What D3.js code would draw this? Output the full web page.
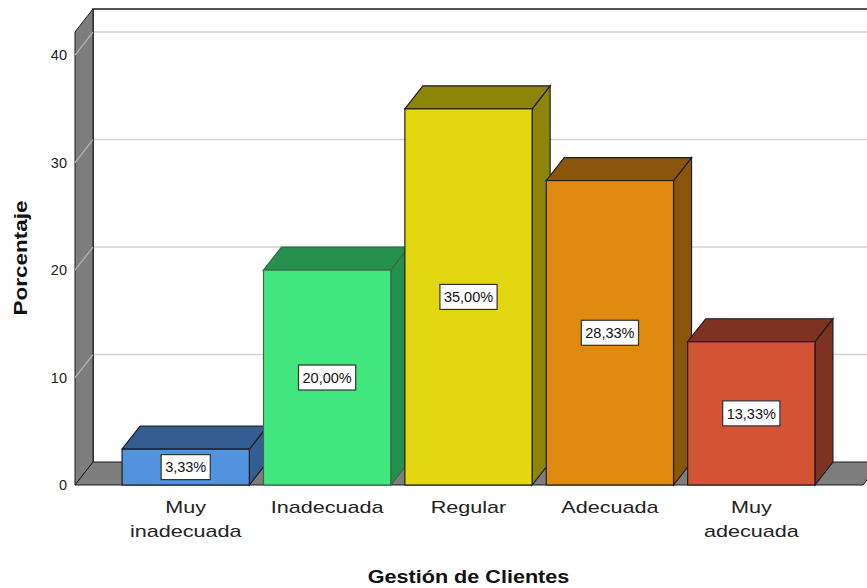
<!DOCTYPE html>
<html>
<head>
<meta charset="utf-8">
<script src="https://cdn.jsdelivr.net/npm/d3@7"></script>
<style>
    body { margin: 0; background: #fff; }
    svg { display: block; font-family: Arial, "Liberation Sans", sans-serif; }
</style>
</head>
<body>
<script>
'use strict';

const categories = ['Muy inadecuada', 'Inadecuada', 'Regular', 'Adecuada', 'Muy adecuada'];
const values = [3.33, 20.00, 35.00, 28.33, 13.33];
const frontColors = ['#5293e0', '#42e67e', '#e3d70f', '#e08a10', '#d35435'];
const darkColors = ['#345d91', '#26914f', '#8d8509', '#8a560c', '#7e3222'];
const yTicks = [0, 10, 20, 30, 40];
const xTitle = 'Gestión de Clientes';
const yTitle = 'Porcentaje';

(function () {

    function getPlot() {
        return {
            width: 867,
            height: 588,
            wallLeft: 75,      // front edge of the left wall
            floorY: 485,       // front edge of the floor (value 0)
            depth: { x: 18, y: -23 },
            right: 867
        };
    }

    function makeScales(plot) {
        return {
            x: d3.scaleBand()
                .domain(categories)
                .range([115, 822])
                .paddingInner(0.1)
                .paddingOuter(0.05),
            y: d3.scaleLinear()
                .domain([0, 42.15])
                .range([plot.floorY, 32])
        };
    }

    // walls, floor and grid lines
    function appendFrame(svg, plot, scales) {
        const dx = plot.depth.x, dy = plot.depth.y;
        const bx = plot.wallLeft + dx;
        const topY = scales.y.range()[1] + dy;
        const backFloor = plot.floorY + dy;

        svg.append('rect')
            .attr('x', bx).attr('y', topY)
            .attr('width', plot.right - bx).attr('height', backFloor - topY)
            .attr('fill', '#fff');

        svg.append('g').selectAll('line')
            .data(yTicks.filter(d => d > 0))
            .join('line')
            .attr('x1', bx).attr('x2', plot.right)
            .attr('y1', d => scales.y(d) + dy).attr('y2', d => scales.y(d) + dy)
            .attr('stroke', '#d2d2d2').attr('stroke-width', 1.5);

        svg.append('path')
            .attr('d', 'M' + bx + ',' + backFloor + 'V' + topY + 'H' + plot.right)
            .attr('fill', 'none').attr('stroke', '#222').attr('stroke-width', 1.6);

        svg.append('path')
            .attr('d', 'M' + plot.wallLeft + ',' + (topY - dy) + 'L' + bx + ',' + topY
                + 'V' + backFloor + 'L' + plot.wallLeft + ',' + plot.floorY + 'Z')
            .attr('fill', '#7d7d7d').attr('stroke', '#1a1a1a').attr('stroke-width', 1);

        svg.append('path')
            .attr('d', 'M' + plot.wallLeft + ',' + plot.floorY + 'L' + bx + ',' + backFloor
                + 'H' + (plot.right + 14) + 'L' + (plot.right - 4) + ',' + plot.floorY + 'Z')
            .attr('fill', '#7d7d7d').attr('stroke', '#1a1a1a').attr('stroke-width', 1);

        svg.append('g').selectAll('line')
            .data(yTicks.filter(d => d > 0))
            .join('line')
            .attr('x1', plot.wallLeft).attr('x2', bx)
            .attr('y1', d => scales.y(d)).attr('y2', d => scales.y(d) + dy)
            .attr('stroke', '#b4b4b4').attr('stroke-width', 1.2);
    }

    function appendYAxis(svg, plot, scales) {
        const axis = svg.append('g')
            .attr('transform', 'translate(' + plot.wallLeft + ',0)')
            .call(d3.axisLeft(scales.y).tickValues(yTicks).tickSize(0).tickPadding(8));
        axis.select('.domain').remove();
        axis.selectAll('text')
            .attr('font-size', 14.5)
            .attr('font-family', 'Arial, "Liberation Sans", sans-serif')
            .attr('fill', '#222');
    }

    function appendBars(svg, plot, scales) {
        const dx = plot.depth.x, dy = plot.depth.y;
        const fmt = d3.formatLocale({ decimal: ',', thousands: '.', grouping: [3], currency: ['', ''] }).format('.2f');
        categories.forEach((c, i) => {
            const x0 = scales.x(c);
            const x1 = x0 + scales.x.bandwidth();
            const yTop = scales.y(values[i]);
            const yBot = scales.y(0);
            const g = svg.append('g');
            const stroke = i === 1 ? '#3a6a4a' : '#1e1e1e';
            g.append('path')
                .attr('d', 'M' + x1 + ',' + yTop + 'L' + (x1 + dx) + ',' + (yTop + dy)
                    + 'V' + (yBot + dy) + 'L' + x1 + ',' + yBot + 'Z')
                .attr('fill', darkColors[i]).attr('stroke', stroke).attr('stroke-width', 1.2);
            g.append('path')
                .attr('d', 'M' + x0 + ',' + yTop + 'L' + (x0 + dx) + ',' + (yTop + dy)
                    + 'H' + (x1 + dx) + 'L' + x1 + ',' + yTop + 'Z')
                .attr('fill', darkColors[i]).attr('stroke', stroke).attr('stroke-width', 1.2);
            g.append('rect')
                .attr('x', x0).attr('y', yTop)
                .attr('width', x1 - x0).attr('height', yBot - yTop)
                .attr('fill', frontColors[i]).attr('stroke', stroke).attr('stroke-width', 1.2);
        });

        // value labels
        categories.forEach((c, i) => {
            const cx = scales.x(c) + scales.x.bandwidth() / 2;
            const cy = (scales.y(values[i]) + scales.y(0)) / 2;
            const lg = svg.append('g').attr('transform', 'translate(' + cx + ',' + cy + ')');
            const rect = lg.append('rect');
            const t = lg.append('text')
                .attr('text-anchor', 'middle')
                .attr('dy', '0.36em')
                .attr('font-size', 14.5)
                .attr('fill', '#111')
                .text(fmt(values[i]) + '%');
            const w = t.node().getComputedTextLength() + 8;
            rect.attr('x', -w / 2).attr('y', -12.5)
                .attr('width', w).attr('height', 25)
                .attr('fill', '#fff').attr('stroke', '#333').attr('stroke-width', 1.2);
        });
    }

    function appendXLabels(svg, plot, scales) {
        categories.forEach(c => {
            const words = c.split(' ');
            const cx = scales.x(c) + scales.x.bandwidth() / 2;
            words.forEach((w, j) => {
                svg.append('text')
                    .attr('transform', 'translate(' + cx + ',' + (513 + j * 23.5) + ') scale(1.27,1)')
                    .attr('text-anchor', 'middle')
                    .attr('font-size', 17)
                    .attr('fill', '#222')
                    .text(w);
            });
        });
    }

    function appendTitles(svg, plot, scales) {
        const r = scales.x.range();
        svg.append('text')
            .attr('transform', 'translate(' + ((r[0] + r[1]) / 2) + ',583) scale(1.2,1)')
            .attr('text-anchor', 'middle')
            .attr('font-size', 18).attr('font-weight', 'bold')
            .attr('fill', '#111')
            .text(xTitle);
        svg.append('text')
            .attr('transform', 'translate(27,258) rotate(-90) scale(1.25,1)')
            .attr('text-anchor', 'middle')
            .attr('font-size', 18).attr('font-weight', 'bold')
            .attr('fill', '#111')
            .text(yTitle);
    }

    function draw() {
        const plot = getPlot();
        const svg = d3.select('body').append('svg')
            .attr('width', plot.width)
            .attr('height', plot.height);
        const scales = makeScales(plot);
        appendFrame(svg, plot, scales);
        appendYAxis(svg, plot, scales);
        appendBars(svg, plot, scales);
        appendXLabels(svg, plot, scales);
        appendTitles(svg, plot, scales);
    }

    window.onload = draw;

})();
</script>
</body>
</html>
